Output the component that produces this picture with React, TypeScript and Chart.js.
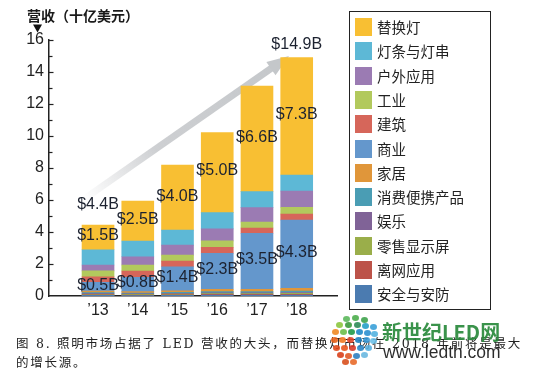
import React, { useEffect, useRef } from 'react';
import { Chart, registerables } from 'chart.js';
Chart.register(...registerables);

const years = ['’13', '’14', '’15', '’16', '’17', '’18'];

// series, bottom of the stack first
const seriesNames = ['安全与安防', '离网应用', '零售显示屏', '娱乐', '消费便携产品', '家居', '商业', '建筑', '工业', '户外应用', '灯条与灯串', '替换灯'];
const seriesColors = ['#4b7bb0', '#bc5349', '#9aae4a', '#806397', '#4a9db4', '#e0963a', '#6497cc', '#d6665a', '#b2c95d', '#9b7bb3', '#5db8d6', '#f8bf33'];

const security = [0.035, 0.03, 0.04, 0.05, 0.05, 0.05];
const offGrid = [0.035, 0.03, 0.04, 0.05, 0.05, 0.05];
const retailDisplay = [0.04, 0.04, 0.04, 0.05, 0.05, 0.06];
const entertainment = [0.04, 0.04, 0.05, 0.05, 0.05, 0.06];
const consumerPortable = [0.06, 0.05, 0.06, 0.07, 0.07, 0.08];
const residential = [0.09, 0.08, 0.1, 0.15, 0.15, 0.18];
const commercial = [0.55, 0.9, 1.5, 2.25, 3.5, 4.27];
const architectural = [0.35, 0.39, 0.35, 0.375, 0.33, 0.375];
const industrial = [0.37, 0.375, 0.375, 0.4, 0.375, 0.42];
const outdoor = [0.37, 0.52, 0.62, 0.75, 0.9, 1.02];
const stripsStrings = [0.95, 0.98, 0.94, 1.02, 1.0, 1.0];
const replacement = [1.55, 2.5, 4.06, 5.0, 6.6, 7.33];

const seriesValues = [security, offGrid, retailDisplay, entertainment, consumerPortable, residential, commercial, architectural, industrial, outdoor, stripsStrings, replacement];

const replacementLabels = ['$1.5B', '$2.5B', '$4.0B', '$5.0B', '$6.6B', '$7.3B'];
const commercialLabels = ['$0.5B', '$0.8B', '$1.4B', '$2.3B', '$3.5B', '$4.3B'];
const totalLabels = ['$4.4B', '', '', '', '', '$14.9B'];

const yTicks = [0, 2, 4, 6, 8, 10, 12, 14, 16];

const titleText = '营收（十亿美元）';
const captionLine1 = '图 8. 照明市场占据了 LED 营收的大头，而替换灯市场在 2018 年前将是最大';
const captionLine2 = '的增长源。';

const NUM_FONT = '"Liberation Sans", Arial, sans-serif';
const CJK_FONT = '"Noto Sans CJK SC", "Liberation Sans", sans-serif';

const totalOffsets = [20, 0, 0, 0, 0, 13];

const decorPlugin = {
  id: 'decor',
  beforeDatasetsDraw(chart: any) {
    const ctx = chart.ctx;
    // growth arrow
    const sx = 84, sy = 199, tx = 289, ty = 56;
    const dx = tx - sx, dy = ty - sy;
    const len = Math.hypot(dx, dy);
    const ux = dx / len, uy = dy / len;
    const nx = -uy, ny = ux;
    const headL = 22, headW = 8;
    const bx = tx - ux * headL, by = ty - uy * headL;
    const g = ctx.createLinearGradient(sx, sy, tx, ty);
    g.addColorStop(0, 'rgba(200,202,205,0)');
    g.addColorStop(0.35, 'rgba(200,202,205,0.9)');
    g.addColorStop(1, 'rgba(196,199,202,1)');
    ctx.save();
    ctx.strokeStyle = g;
    ctx.lineWidth = 7;
    ctx.beginPath();
    ctx.moveTo(sx, sy);
    ctx.lineTo(bx + ux * 2, by + uy * 2);
    ctx.stroke();
    ctx.fillStyle = '#c4c7ca';
    ctx.beginPath();
    ctx.moveTo(tx, ty);
    ctx.lineTo(bx + nx * headW, by + ny * headW);
    ctx.lineTo(bx - nx * headW, by - ny * headW);
    ctx.closePath();
    ctx.fill();
    ctx.restore();
  },
  afterDatasetsDraw(chart: any) {
    const ctx = chart.ctx;
    const ys = chart.scales.y;
    const area = chart.chartArea;
    ctx.save();
    // inner ticks on y axis
    ctx.strokeStyle = '#222';
    ctx.lineWidth = 1.2;
    for (let v = 1; v <= 16; v++) {
      const y = Math.round(ys.getPixelForValue(v)) + 0.5;
      ctx.beginPath();
      ctx.moveTo(area.left, y);
      ctx.lineTo(area.left + (v % 2 === 0 ? 4.5 : 3.5), y);
      ctx.stroke();
    }
    // small triangle under title
    ctx.fillStyle = '#111';
    ctx.beginPath();
    ctx.moveTo(33, 24.5);
    ctx.lineTo(42, 24.5);
    ctx.lineTo(37.5, 32.5);
    ctx.closePath();
    ctx.fill();
    // value labels
    ctx.font = '16px ' + NUM_FONT;
    ctx.fillStyle = '#1c2230';
    ctx.textAlign = 'center';
    ctx.textBaseline = 'middle';
    const topIdx = seriesNames.indexOf('替换灯');
    const comIdx = seriesNames.indexOf('商业');
    const topMeta = chart.getDatasetMeta(topIdx);
    const comMeta = chart.getDatasetMeta(comIdx);
    topMeta.data.forEach((bar: any, i: number) => {
      const p = bar.getProps(['x', 'y', 'base'], true);
      ctx.fillText(replacementLabels[i], p.x, (p.y + p.base) / 2 - 1.5);
      if (totalLabels[i]) ctx.fillText(totalLabels[i], p.x, p.y - totalOffsets[i]);
    });
    comMeta.data.forEach((bar: any, i: number) => {
      const p = bar.getProps(['x', 'y', 'base'], true);
      ctx.fillText(commercialLabels[i], p.x, (p.y + p.base) / 2 - 1.5);
    });
    ctx.restore();
  },
};

const logoDots: [number, number, string][] = [
  [346, 319, '#5cb85c'], [355, 318, '#4cae4c'], [364, 320, '#3fa34d'],
  [339, 325, '#8cc63f'], [348, 325, '#3c9a3c'], [357, 325, '#2e8b57'], [365, 326, '#27a0c8'], [373, 327, '#3aa0d8'],
  [335, 332, '#f08a24'], [343, 332, '#6cbf4a'], [351, 332, '#1f9a4a'], [359, 332, '#1e88c8'], [367, 333, '#2a8fd0'], [374, 334, '#53b3e0'],
  [334, 340, '#e8641c'], [342, 340, '#f07a22'], [350, 340, '#e0462a'], [358, 340, '#1e7fc0'], [366, 340, '#3a9ad8'], [373, 341, '#6cc0e8'],
  [336, 348, '#e04a1c'], [344, 348, '#e8561e'], [352, 348, '#d83a2a'], [360, 348, '#2b86c8'], [368, 348, '#58b0e0'],
  [340, 355, '#d8401c'], [348, 356, '#e05a28'], [356, 356, '#2f7fc0'], [364, 355, '#6ab8e0'],
  [345, 362, '#d8501e'], [353, 362, '#e86a2a'],
];

export default function App() {
  const ref = useRef<HTMLCanvasElement | null>(null);
  useEffect(() => {
    const canvas = ref.current;
    if (!canvas) return;
    const datasets = seriesNames.map((name, si) => ({
      label: name,
      data: seriesValues[si].map((v, i) => ({ x: i, y: v })),
      backgroundColor: seriesColors[si],
      borderWidth: 0,
      barThickness: 32,
    }));
    const chart = new Chart(canvas, {
      type: 'bar',
      data: { datasets },
      plugins: [decorPlugin],
      options: {
        animation: false,
        responsive: false,
        devicePixelRatio: 1,
        layout: { padding: { left: 0, right: 202, top: 40, bottom: 0 } },
        plugins: { legend: { display: false }, tooltip: { enabled: false } },
        scales: {
          x: {
            type: 'linear',
            stacked: true,
            min: -0.63,
            max: 5.41,
            afterBuildTicks: (axis: any) => {
              axis.ticks = years.map((_, i) => ({ value: i }));
            },
            afterFit: (axis: any) => {
              axis.height = 85;
            },
            grid: { display: false, drawTicks: false },
            border: { display: true, color: '#222', width: 1.5 },
            ticks: {
              padding: 5,
              autoSkip: false,
              maxRotation: 0,
              color: '#222',
              font: { size: 16, family: NUM_FONT },
              callback: (v: any) => years[Math.round(Number(v))] ?? '',
            },
          },
          y: {
            stacked: true,
            min: 0,
            max: 16,
            afterBuildTicks: (axis: any) => {
              axis.ticks = yTicks.map((v) => ({ value: v }));
            },
            afterFit: (axis: any) => {
              axis.width = 49;
            },
            grid: { display: false, drawTicks: false },
            border: { display: true, color: '#222', width: 1.5 },
            ticks: {
              padding: 5,
              color: '#222',
              font: { size: 16, family: NUM_FONT },
            },
          },
        },
      },
    } as any);
    return () => chart.destroy();
  }, []);

  const legendItems = seriesNames.map((n, i) => ({ n, c: seriesColors[i] })).reverse();

  return (
    <div style={{ position: 'fixed', left: 0, top: 0, width: 539, height: 381, background: '#fff', overflow: 'hidden' }}>
      <canvas ref={ref} width={539} height={381} style={{ position: 'absolute', left: 0, top: 0, width: 539, height: 381 }} />
      <div style={{ position: 'absolute', left: 27, top: 5, fontFamily: CJK_FONT, fontWeight: 'bold', fontSize: 14, color: '#1a1a1a', whiteSpace: 'nowrap', lineHeight: '20px' }}>{titleText}</div>
      <div style={{ position: 'absolute', left: 349, top: 11, width: 140, height: 297, border: '1.5px solid #222', boxSizing: 'content-box' }}>
        {legendItems.map((it, i) => (
          <div key={it.n} style={{ position: 'absolute', left: 5, top: 6 + i * 24.3, height: 18, display: 'flex', alignItems: 'center', whiteSpace: 'nowrap' }}>
            <div style={{ width: 17, height: 18, background: it.c }} />
            <span style={{ marginLeft: 5, fontFamily: CJK_FONT, fontSize: 14.5, color: '#222', lineHeight: '18px' }}>{it.n}</span>
          </div>
        ))}
      </div>
      <div style={{ position: 'absolute', left: 16, top: 334, fontFamily: '"DejaVu Serif", "Noto Sans CJK SC", serif', fontSize: 12.5, color: '#222', whiteSpace: 'nowrap', lineHeight: '19px', letterSpacing: 1.75 }}>
        <div>{captionLine1}</div>
        <div>{captionLine2}</div>
      </div>
      {logoDots.map(([x, y, c], i) => (
        <div key={i} style={{ position: 'absolute', left: x - 3.5, top: y - 3, width: 7, height: 6, borderRadius: '50%', background: c, opacity: 0.9 }} />
      ))}
      <div style={{ position: 'absolute', left: 382, top: 320, fontFamily: CJK_FONT, fontWeight: 'bold', fontSize: 20, color: '#2a8a3c', whiteSpace: 'nowrap', lineHeight: '24px', opacity: 0.92 }}>新世纪LED网</div>
      <div style={{ position: 'absolute', left: 383, top: 341, fontFamily: NUM_FONT, fontSize: 17.5, color: '#1a1a1a', whiteSpace: 'nowrap', lineHeight: '22px', opacity: 0.92 }}>www.ledth.com</div>
    </div>
  );
}
